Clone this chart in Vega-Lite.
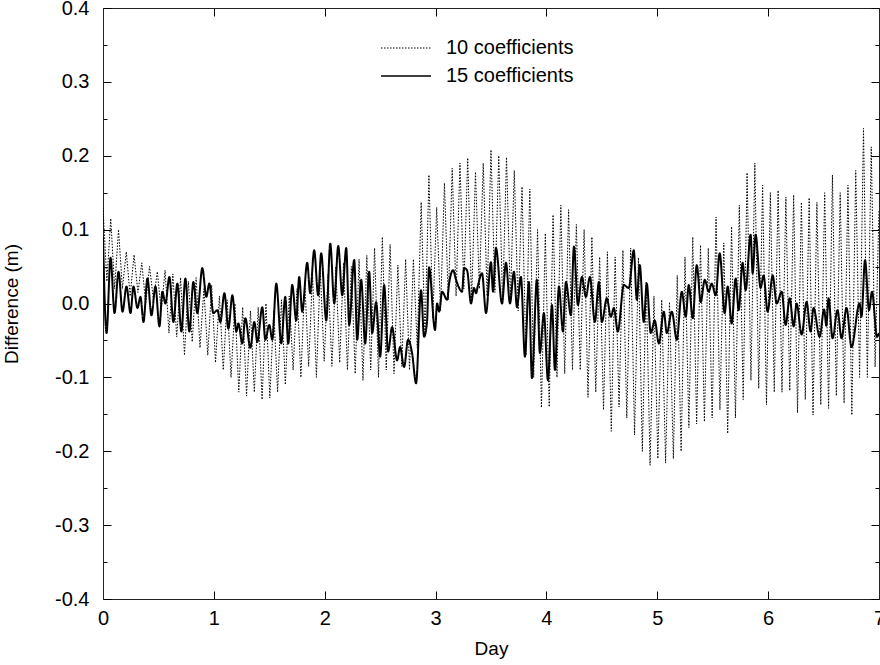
{
 "$schema": "https://vega.github.io/schema/vega-lite/v6.json",
 "width": 776, "height": 591,
 "autosize": {"type": "none"},
 "padding": {"left": 103, "top": 8, "right": 1, "bottom": 66},
 "background": "white",
 "config": {
  "view": {"stroke": null},
  "font": "Liberation Sans",
  "axis": {"grid": false, "domain": true, "domainColor": "#222", "domainWidth": 1, "labelFont": "Liberation Sans", "titleFont": "Liberation Sans", "labelFontSize": 20, "titleFontSize": 19, "titleFontWeight": "normal", "labelColor": "#000", "titleColor": "#000", "tickColor": "#000", "tickWidth": 1}
 },
 "datasets": {
  "a": [
   {"d":0,"v":0.13},{"d":0.035,"v":0.03},{"d":0.07,"v":0.115},{"d":0.105,"v":0.02},{"d":0.14,"v":0.1},{"d":0.175,"v":0.02},{"d":0.21,"v":0.07},{"d":0.245,"v":0.01},{"d":0.28,"v":0.066},{"d":0.315,"v":0.015},
   {"d":0.35,"v":0.055},{"d":0.385,"v":0.0},{"d":0.42,"v":0.05},{"d":0.455,"v":0.005},{"d":0.49,"v":0.043},{"d":0.525,"v":-0.01},{"d":0.56,"v":0.045},{"d":0.595,"v":-0.04},{"d":0.63,"v":0.04},{"d":0.665,"v":-0.045},
   {"d":0.7,"v":0.035},{"d":0.735,"v":-0.07},{"d":0.77,"v":0.03},{"d":0.805,"v":-0.052},{"d":0.84,"v":0.035},{"d":0.875,"v":-0.06},{"d":0.91,"v":0.02},{"d":0.945,"v":-0.07},{"d":0.98,"v":0.025},{"d":1.015,"v":-0.08},
   {"d":1.05,"v":0.01},{"d":1.085,"v":-0.09},{"d":1.12,"v":0.005},{"d":1.155,"v":-0.1},{"d":1.19,"v":0.0},{"d":1.225,"v":-0.12},{"d":1.26,"v":-0.005},{"d":1.295,"v":-0.125},{"d":1.33,"v":-0.01},{"d":1.365,"v":-0.12},
   {"d":1.4,"v":-0.005},{"d":1.435,"v":-0.13},{"d":1.47,"v":0.0},{"d":1.505,"v":-0.128},{"d":1.54,"v":-0.01},{"d":1.575,"v":-0.12},{"d":1.61,"v":0.005},{"d":1.645,"v":-0.11},{"d":1.68,"v":0.01},{"d":1.715,"v":-0.09},
   {"d":1.75,"v":0.02},{"d":1.785,"v":-0.1},{"d":1.82,"v":0.03},{"d":1.855,"v":-0.085},{"d":1.89,"v":0.04},{"d":1.925,"v":-0.1},{"d":1.96,"v":0.045},{"d":1.995,"v":-0.078},{"d":2.03,"v":0.04},{"d":2.065,"v":-0.085},
   {"d":2.1,"v":0.05},{"d":2.135,"v":-0.08},{"d":2.17,"v":0.055},{"d":2.205,"v":-0.09},{"d":2.24,"v":0.05},{"d":2.275,"v":-0.095},{"d":2.31,"v":0.06},{"d":2.345,"v":-0.104},{"d":2.38,"v":0.065},{"d":2.415,"v":-0.09},
   {"d":2.45,"v":0.075},{"d":2.485,"v":-0.1},{"d":2.52,"v":0.09},{"d":2.555,"v":-0.09},{"d":2.59,"v":0.08},{"d":2.625,"v":-0.095},{"d":2.66,"v":0.052},{"d":2.695,"v":-0.085},{"d":2.73,"v":0.06},{"d":2.765,"v":-0.09},
   {"d":2.8,"v":0.06},{"d":2.835,"v":-0.06},{"d":2.87,"v":0.137},{"d":2.905,"v":-0.045},{"d":2.94,"v":0.174},{"d":2.975,"v":-0.02},{"d":3.01,"v":0.13},{"d":3.045,"v":-0.01},{"d":3.08,"v":0.163},{"d":3.115,"v":0.005},
   {"d":3.15,"v":0.183},{"d":3.185,"v":0.01},{"d":3.22,"v":0.19},{"d":3.255,"v":0.02},{"d":3.29,"v":0.197},{"d":3.325,"v":0.005},{"d":3.36,"v":0.178},{"d":3.395,"v":0.02},{"d":3.43,"v":0.19},{"d":3.465,"v":0.01},
   {"d":3.5,"v":0.208},{"d":3.535,"v":0.015},{"d":3.57,"v":0.2},{"d":3.605,"v":0.0},{"d":3.64,"v":0.198},{"d":3.675,"v":0.005},{"d":3.71,"v":0.18},{"d":3.745,"v":-0.01},{"d":3.78,"v":0.158},{"d":3.815,"v":-0.07},
   {"d":3.85,"v":0.155},{"d":3.885,"v":-0.1},{"d":3.92,"v":0.1},{"d":3.955,"v":-0.141},{"d":3.99,"v":0.095},{"d":4.025,"v":-0.14},{"d":4.06,"v":0.12},{"d":4.095,"v":-0.1},{"d":4.13,"v":0.133},{"d":4.165,"v":-0.095},
   {"d":4.2,"v":0.127},{"d":4.235,"v":-0.09},{"d":4.27,"v":0.107},{"d":4.305,"v":-0.09},{"d":4.34,"v":0.1},{"d":4.375,"v":-0.127},{"d":4.41,"v":0.09},{"d":4.445,"v":-0.12},{"d":4.48,"v":0.063},{"d":4.515,"v":-0.144},
   {"d":4.55,"v":0.07},{"d":4.585,"v":-0.173},{"d":4.62,"v":0.063},{"d":4.655,"v":-0.14},{"d":4.69,"v":0.072},{"d":4.725,"v":-0.155},{"d":4.76,"v":0.075},{"d":4.795,"v":-0.178},{"d":4.83,"v":0.062},{"d":4.865,"v":-0.2},
   {"d":4.9,"v":0.03},{"d":4.935,"v":-0.219},{"d":4.97,"v":0.01},{"d":5.005,"v":-0.21},{"d":5.04,"v":0.005},{"d":5.075,"v":-0.216},{"d":5.11,"v":0.002},{"d":5.145,"v":-0.21},{"d":5.18,"v":0.038},{"d":5.215,"v":-0.2},
   {"d":5.25,"v":0.063},{"d":5.285,"v":-0.168},{"d":5.32,"v":0.09},{"d":5.355,"v":-0.163},{"d":5.39,"v":0.079},{"d":5.425,"v":-0.16},{"d":5.46,"v":0.075},{"d":5.495,"v":-0.155},{"d":5.53,"v":0.117},{"d":5.565,"v":-0.144},
   {"d":5.6,"v":0.082},{"d":5.635,"v":-0.176},{"d":5.67,"v":0.104},{"d":5.705,"v":-0.155},{"d":5.74,"v":0.133},{"d":5.775,"v":-0.13},{"d":5.81,"v":0.177},{"d":5.845,"v":-0.104},{"d":5.88,"v":0.19},{"d":5.915,"v":-0.115},
   {"d":5.95,"v":0.16},{"d":5.985,"v":-0.137},{"d":6.02,"v":0.15},{"d":6.055,"v":-0.12},{"d":6.09,"v":0.153},{"d":6.125,"v":-0.12},{"d":6.16,"v":0.144},{"d":6.195,"v":-0.118},{"d":6.23,"v":0.147},{"d":6.265,"v":-0.148},
   {"d":6.3,"v":0.137},{"d":6.335,"v":-0.13},{"d":6.37,"v":0.143},{"d":6.405,"v":-0.151},{"d":6.44,"v":0.137},{"d":6.475,"v":-0.137},{"d":6.51,"v":0.15},{"d":6.545,"v":-0.142},{"d":6.58,"v":0.174},{"d":6.615,"v":-0.125},
   {"d":6.65,"v":0.15},{"d":6.685,"v":-0.135},{"d":6.72,"v":0.16},{"d":6.755,"v":-0.151},{"d":6.79,"v":0.18},{"d":6.825,"v":-0.1},{"d":6.86,"v":0.237},{"d":6.895,"v":-0.1},{"d":6.93,"v":0.212},{"d":6.965,"v":-0.086},
   {"d":7.0,"v":0.127}
  ],
  "b": [
   {"d":0,"v":0.09},{"d":0.032,"v":-0.04},{"d":0.068,"v":0.062},{"d":0.104,"v":-0.013},{"d":0.14,"v":0.043},{"d":0.176,"v":-0.011},{"d":0.212,"v":0.023},{"d":0.248,"v":-0.013},{"d":0.275,"v":0.023},{"d":0.311,"v":-0.006},
   {"d":0.338,"v":0.009},{"d":0.365,"v":-0.025},{"d":0.401,"v":0.034},{"d":0.437,"v":-0.016},{"d":0.473,"v":0.023},{"d":0.509,"v":-0.031},{"d":0.536,"v":0.016},{"d":0.563,"v":0.0},{"d":0.599,"v":0.036},{"d":0.635,"v":-0.025},
   {"d":0.671,"v":0.027},{"d":0.707,"v":-0.038},{"d":0.743,"v":0.034},{"d":0.779,"v":-0.038},{"d":0.815,"v":0.029},{"d":0.851,"v":-0.013},{"d":0.896,"v":0.048},{"d":0.932,"v":0.009},{"d":0.959,"v":0.027},{"d":0.995,"v":-0.013},
   {"d":1.032,"v":-0.009},{"d":1.059,"v":-0.025},{"d":1.095,"v":0.014},{"d":1.131,"v":-0.034},{"d":1.167,"v":0.011},{"d":1.203,"v":-0.038},{"d":1.221,"v":-0.027},{"d":1.257,"v":-0.054},{"d":1.284,"v":-0.02},{"d":1.329,"v":-0.06},
   {"d":1.365,"v":-0.025},{"d":1.392,"v":-0.052},{"d":1.437,"v":-0.005},{"d":1.464,"v":-0.049},{"d":1.5,"v":-0.029},{"d":1.527,"v":-0.049},{"d":1.563,"v":0.027},{"d":1.608,"v":-0.054},{"d":1.644,"v":0.009},{"d":1.671,"v":-0.054},
   {"d":1.707,"v":0.025},{"d":1.743,"v":-0.023},{"d":1.77,"v":0.036},{"d":1.797,"v":-0.011},{"d":1.842,"v":0.055},{"d":1.869,"v":0.014},{"d":1.905,"v":0.072},{"d":1.941,"v":0.011},{"d":1.968,"v":0.068},{"d":2.014,"v":-0.023},
   {"d":2.05,"v":0.081},{"d":2.086,"v":0.0},{"d":2.122,"v":0.078},{"d":2.158,"v":0.011},{"d":2.194,"v":0.075},{"d":2.221,"v":-0.029},{"d":2.266,"v":0.059},{"d":2.293,"v":-0.049},{"d":2.329,"v":0.032},{"d":2.365,"v":-0.054},
   {"d":2.401,"v":0.043},{"d":2.428,"v":-0.04},{"d":2.464,"v":0.002},{"d":2.5,"v":-0.072},{"d":2.536,"v":0.025},{"d":2.572,"v":-0.065},{"d":2.608,"v":-0.032},{"d":2.653,"v":-0.077},{"d":2.68,"v":-0.059},{"d":2.716,"v":-0.086},
   {"d":2.752,"v":-0.049},{"d":2.788,"v":-0.067},{"d":2.824,"v":-0.108},{"d":2.869,"v":0.018},{"d":2.896,"v":-0.045},{"d":2.923,"v":-0.025},{"d":2.941,"v":0.049},{"d":2.995,"v":-0.036},{"d":3.014,"v":0.0},{"d":3.032,"v":-0.011},
   {"d":3.059,"v":0.016},{"d":3.104,"v":0.005},{"d":3.122,"v":0.027},{"d":3.158,"v":0.045},{"d":3.185,"v":0.032},{"d":3.239,"v":0.016},{"d":3.257,"v":0.048},{"d":3.284,"v":0.045},{"d":3.32,"v":0.0},{"d":3.347,"v":0.021},
   {"d":3.365,"v":0.014},{"d":3.383,"v":0.025},{"d":3.419,"v":0.041},{"d":3.455,"v":-0.013},{"d":3.5,"v":0.056},{"d":3.518,"v":0.016},{"d":3.545,"v":0.075},{"d":3.599,"v":0.0},{"d":3.635,"v":0.055},{"d":3.671,"v":0.0},
   {"d":3.707,"v":0.043},{"d":3.734,"v":-0.005},{"d":3.77,"v":0.036},{"d":3.806,"v":-0.072},{"d":3.842,"v":0.029},{"d":3.869,"v":-0.101},{"d":3.914,"v":0.032},{"d":3.941,"v":-0.067},{"d":3.977,"v":-0.013},{"d":4.014,"v":-0.104},
   {"d":4.05,"v":-0.002},{"d":4.077,"v":-0.09},{"d":4.113,"v":0.023},{"d":4.149,"v":-0.038},{"d":4.176,"v":0.029},{"d":4.221,"v":-0.016},{"d":4.248,"v":0.077},{"d":4.284,"v":-0.002},{"d":4.32,"v":0.036},{"d":4.356,"v":0.009},
   {"d":4.392,"v":0.036},{"d":4.437,"v":-0.025},{"d":4.473,"v":0.029},{"d":4.5,"v":-0.025},{"d":4.545,"v":0.007},{"d":4.581,"v":-0.018},{"d":4.608,"v":-0.006},{"d":4.644,"v":-0.038},{"d":4.698,"v":0.025},{"d":4.743,"v":0.021},
   {"d":4.788,"v":0.072},{"d":4.815,"v":0.005},{"d":4.842,"v":0.052},{"d":4.878,"v":-0.025},{"d":4.905,"v":0.027},{"d":4.941,"v":-0.04},{"d":4.977,"v":-0.023},{"d":5.014,"v":-0.054},{"d":5.059,"v":-0.011},{"d":5.086,"v":-0.04},
   {"d":5.131,"v":-0.011},{"d":5.176,"v":-0.049},{"d":5.221,"v":0.016},{"d":5.257,"v":-0.018},{"d":5.284,"v":0.025},{"d":5.32,"v":-0.02},{"d":5.356,"v":0.052},{"d":5.392,"v":0.002},{"d":5.428,"v":0.032},{"d":5.464,"v":0.016},
   {"d":5.491,"v":0.027},{"d":5.527,"v":0.011},{"d":5.563,"v":0.068},{"d":5.608,"v":-0.013},{"d":5.635,"v":0.023},{"d":5.671,"v":-0.027},{"d":5.707,"v":0.034},{"d":5.734,"v":-0.009},{"d":5.77,"v":0.055},{"d":5.797,"v":0.018},
   {"d":5.842,"v":0.093},{"d":5.86,"v":0.041},{"d":5.887,"v":0.093},{"d":5.932,"v":0.021},{"d":5.959,"v":0.038},{"d":5.995,"v":-0.011},{"d":6.041,"v":0.038},{"d":6.077,"v":0.0},{"d":6.122,"v":0.016},{"d":6.158,"v":-0.029},
   {"d":6.194,"v":0.007},{"d":6.23,"v":-0.031},{"d":6.257,"v":0.0},{"d":6.302,"v":-0.042},{"d":6.347,"v":0.002},{"d":6.383,"v":-0.038},{"d":6.41,"v":-0.006},{"d":6.464,"v":-0.045},{"d":6.505,"v":-0.008},{"d":6.525,"v":-0.03},
   {"d":6.545,"v":0.007},{"d":6.581,"v":-0.047},{"d":6.626,"v":-0.009},{"d":6.662,"v":-0.047},{"d":6.707,"v":-0.006},{"d":6.752,"v":-0.059},{"d":6.824,"v":0.0},{"d":6.842,"v":-0.018},{"d":6.874,"v":0.059},{"d":6.91,"v":-0.009},
   {"d":6.937,"v":0.016},{"d":6.982,"v":-0.045},{"d":7.0,"v":-0.04}
  ]
 },
 "layer": [
  {
   "data": {"name": "a"},
   "mark": {"type": "line", "strokeWidth": 1, "color": "#000", "clip": true},
   "encoding": {
    "x": {"field": "d", "type": "quantitative", "scale": {"domain": [0, 7], "nice": false, "zero": false},
          "axis": {"orient": "bottom", "values": [0,1,2,3,4,5,6,7], "format": "d", "tickSize": -8, "labelPadding": 17, "title": "Day", "titlePadding": 11, "labelFlush": false}},
    "y": {"field": "v", "type": "quantitative", "scale": {"domain": [-0.4, 0.4], "nice": false, "zero": false},
          "axis": {"orient": "left", "values": [-0.4,-0.35,-0.3,-0.25,-0.2,-0.15,-0.1,-0.05,0,0.05,0.1,0.15,0.2,0.25,0.3,0.35,0.4],
                   "tickSize": {"condition": {"test": "abs(datum.value*10 - round(datum.value*10)) < 0.01", "value": -8}, "value": -4},
                   "labelExpr": "abs(datum.value*10 - round(datum.value*10)) < 0.01 ? replace(format(datum.value, '.1f'), '\u2212', '-') : ''",
                   "labelOverlap": false, "labelFlush": false, "labelPadding": 22, "title": "Difference (m)", "titlePadding": 33}},
    "strokeDash": {"datum": "10 coefficients", "type": "nominal",
                   "scale": {"domain": ["10 coefficients", "15 coefficients"], "range": [[1.5, 1.5], [1, 0]]},
                   "legend": {"orient": "none", "legendX": 293, "legendY": 30, "title": null, "symbolType": "stroke", "symbolSize": 2500,
                              "symbolStrokeColor": "#000", "labelFont": "Liberation Sans", "labelFontSize": 20, "labelColor": "#000", "labelOffset": 30, "rowPadding": 8, "padding": 0,
                              "encode": {"symbols": {"update": {"strokeWidth": {"signal": "datum.value === '15 coefficients' ? 1.6 : 1"}}}}}}
   }
  },
  {
   "data": {"name": "b"},
   "mark": {"type": "line", "strokeWidth": 2, "color": "#000", "interpolate": "monotone", "clip": true},
   "encoding": {
    "x": {"field": "d", "type": "quantitative", "axis": {"orient": "top", "values": [0,1,2,3,4,5,6,7], "tickSize": -8, "labels": false, "title": null}},
    "y": {"field": "v", "type": "quantitative",
          "axis": {"orient": "right", "values": [-0.4,-0.35,-0.3,-0.25,-0.2,-0.15,-0.1,-0.05,0,0.05,0.1,0.15,0.2,0.25,0.3,0.35,0.4],
                   "tickSize": {"condition": {"test": "abs(datum.value*10 - round(datum.value*10)) < 0.01", "value": -8}, "value": -4},
                   "labels": false, "title": null}},
    "strokeDash": {"datum": "15 coefficients", "type": "nominal"}
   }
  }
 ],
 "resolve": {"axis": {"x": "independent", "y": "independent"}}
}
